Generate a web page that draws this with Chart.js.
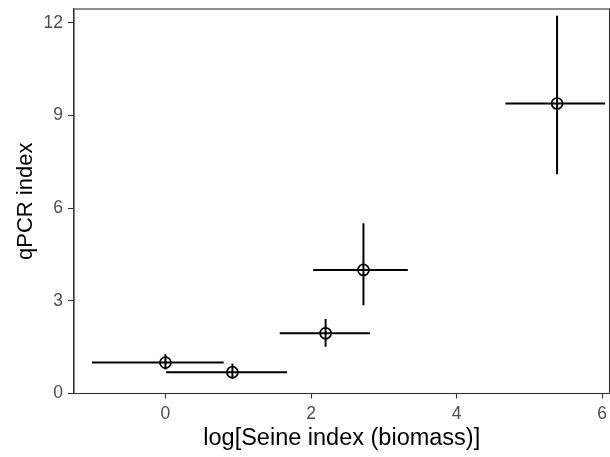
<!DOCTYPE html>
<html>
<head>
<meta charset="utf-8">
<script src="https://cdn.jsdelivr.net/npm/chart.js@4.4.1/dist/chart.umd.min.js"></script>
<style>
  html, body { margin: 0; padding: 0; background: #ffffff; }
  #wrap { width: 610px; height: 457px; position: relative; }
</style>
</head>
<body>
<div id="wrap"><canvas id="c" width="610" height="457"></canvas></div>
<script>
// ---- data ----
const seineLog  = [0.00, 0.92, 2.20, 2.72, 5.38];   // x: log[Seine index (biomass)]
const seineLow  = [-1.01, 0.01, 1.57, 2.03, 4.67];  // x error lower
const seineHigh = [0.80, 1.67, 2.81, 3.33, 6.04];   // x error upper
const qpcr      = [1.00, 0.69, 1.95, 4.00, 9.39];   // y: qPCR index
const qpcrLow   = [0.78, 0.47, 1.51, 2.86, 7.10];   // y error lower
const qpcrHigh  = [1.27, 0.97, 2.41, 5.51, 12.23];  // y error upper
const xTicks = [0, 2, 4, 6];
const yTicks = [0, 3, 6, 9, 12];

const lineStyle = { borderColor: '#000000', borderWidth: 2, pointRadius: 0, showLine: true, fill: false };
const datasets = [];
for (let i = 0; i < seineLog.length; i++) {
  datasets.push(Object.assign({ data: [{x: seineLow[i], y: qpcr[i]}, {x: seineHigh[i], y: qpcr[i]}] }, lineStyle));
  datasets.push(Object.assign({ data: [{x: seineLog[i], y: qpcrLow[i]}, {x: seineLog[i], y: qpcrHigh[i]}] }, lineStyle));
}
datasets.push({
  data: seineLog.map((v, i) => ({x: v, y: qpcr[i]})),
  showLine: false,
  pointStyle: 'circle',
  pointRadius: 5.5,
  pointBorderWidth: 1.7,
  pointBorderColor: '#000000',
  pointBackgroundColor: 'rgba(0,0,0,0)'
});

const frame = {
  id: 'frame',
  afterDraw(chart) {
    const a = chart.chartArea, ctx = chart.ctx;
    ctx.save();
    ctx.strokeStyle = '#333333';
    ctx.lineWidth = 1.1;
    ctx.strokeRect(a.left, a.top, a.right - a.left, a.bottom - a.top);
    ctx.restore();
  }
};

const zeroPad = () => ({ left: 0, top: 0, right: 0, bottom: 0 });
const tickFont = { family: 'Liberation Sans, Arial, sans-serif', size: 17.5 };
const yTitleFont = { family: 'Liberation Sans, Arial, sans-serif', size: 22 };
const xTitleFont = { family: 'Liberation Sans, Arial, sans-serif', size: 23.5 };

new Chart(document.getElementById('c'), {
  type: 'scatter',
  data: { datasets },
  plugins: [frame],
  options: {
    responsive: false,
    animation: false,
    devicePixelRatio: 1,
    layout: { autoPadding: false, padding: { left: 0, top: 9, right: 0.5, bottom: 0 } },
    plugins: { legend: { display: false }, tooltip: { enabled: false } },
    scales: {
      x: {
        type: 'linear', min: -1.256, max: 6.1,
        afterBuildTicks: s => { s.ticks = xTicks.map(v => ({ value: v })); },
        afterFit: s => { s.height = 63.5; s.paddingLeft = 0; s.paddingRight = 0; s.getPadding = zeroPad; },
        grid: { drawOnChartArea: false, drawTicks: true, tickLength: 5, tickColor: '#333333', tickWidth: 1.1 },
        border: { display: true, color: '#333333', width: 1.1 },
        ticks: { color: '#4d4d4d', font: tickFont, padding: 5, maxRotation: 0 },
        title: { display: true, text: 'log[Seine index (biomass)]', color: '#000000', font: xTitleFont, padding: { top: 0, bottom: 4.5 } }
      },
      y: {
        type: 'linear', min: 0, max: 12.45,
        afterBuildTicks: s => { s.ticks = yTicks.map(v => ({ value: v })); },
        afterFit: s => { s.width = 74; s.paddingTop = 0; s.paddingBottom = 0; s.getPadding = zeroPad; },
        grid: { drawOnChartArea: false, drawTicks: true, tickLength: 6, tickColor: '#333333', tickWidth: 1.1 },
        border: { display: true, color: '#333333', width: 1.1 },
        ticks: { color: '#4d4d4d', font: tickFont, padding: 5 },
        title: { display: true, text: 'qPCR index', color: '#000000', font: yTitleFont, padding: { top: 13, bottom: 0 } }
      }
    }
  }
});
</script>
</body>
</html>
